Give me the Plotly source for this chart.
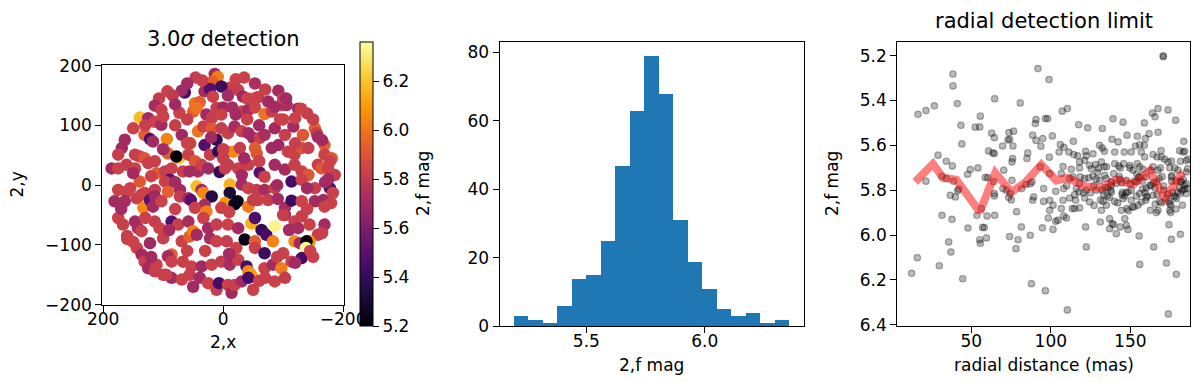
import plotly.graph_objects as go

# ---------------- data ----------------
# left panel: detected positions (x, y) and magnitudes
det_x = [46, 14, 9, 18, -11, -21, -53, 3,
         64, 69, 93, 84, 31, 22, 17, -8, -25, -33, -50, -58, -92, -97, 107, 47, 39,
         114, 103, 139, 125, 73, 50, 44, 28, 11, 0, -15, -31, -42, -53, -69, -81, -86, -106, -125, 19, 3, -21,
         164, 114, 103, 131, 122, 117, 94, 69, 42, 33, 19, 3, -8, -19, -31, -42, -50, -61, -69, -86, -103, -117, -133, -153, -156, -158,
         169, 175, 147, 139, 131, 114, 92, 74, 78, 58, 47, 31, 22, 11, 8, -6, -17, -28, -53, -56, -81, -92, -108, -119, -131, -142, -169, -169, -181,
         186, 175, 161, 147, 125, 111, 97, 86, 89, 67, 56, 42, 36, 25, 6, -3, -8, -25, -31, -42, -61, -69, -86, -103, -119, -131, -142, -158, -164, -175, -186,
         175, 161, 139, 131, 114, 97, 92, 72, 44, 36, 33, 19, -11, -11, -31, -42, -56, -69, -86, -114, -131, -153, -178, -183,
         181, 164, 144, 136, 133, 122, 117, 114, 103, 72, 58, 54, 31, 47, 28, -3, 3, -19, -24, -42, -58, -75, -91, -103, -114, -131, -153, -167, -169,
         175, 167, 147, 142, 136, 114, 106, 86, 75, 58, 33, 25, 11, -8, -25, -47, -53, -64, -72, -86, -103, -119, -131, -144, -158, -169, -125,
         144, 136, 122, 100, 86, 69, 56, 50, 44, 22, 11, -6, -22, -36, -53, -53, -69, -83, -100, -119, -128, -144, -139, -138, -131,
         131, 125, 111, 114, 92, 86, 67, 53, 36, 19, 3, -11, -25, -39, -42, -47, -69, -83, -97, -114,
         86, 69, 56, 39, 25, 11, 7, -8, -14, -19, -31, -42, -86, -103,
         -100, -120, -140, -75, -40, 60, 80, 100, -60, 100, 150, -170, 160, -150, 0, -35, 55, -95, 80, -10,
         60, -35, -70, -105, -130, -150, -165, -178, 130, 155, 170, 160, 150, 120, 95, 50, -50, -70, -120, -145,
         -165, -180, -175, -60, -90, 0, 20, 60, 80, 100, -100, -120, -60, -40, 35, 80, 90, 60, 30, -10,
         -90, -110, -140, -140, -100, 130, 150, 120, -50]
det_y = [180, 186, 181, 173, 163, 177, 170, 165,
         155, 158, 157, 150, 157, 161, 148, 150, 159, 148, 145, 147, 158, 134, 145, 137, 139,
         133, 126, 113, 112, 121, 123, 129, 118, 129, 130, 130, 123, 126, 130, 119, 123, 131, 134, 128, 112, 118, 118,
         76, 106, 101, 84, 77, 73, 77, 84, 90, 98, 95, 95, 87, 98, 90, 87, 79, 79, 84, 95, 84, 98, 84, 95, 87, 81,
         62, 51, 51, 48, 45, 40, 53, 45, 48, 51, 40, 67, 51, 76, 56, 56, 56, 62, 62, 53, 62, 67, 56, 51, 62, 62, 67, 51, 45,
         28, 28, 34, 28, 37, 20, 23, 28, 9, 23, 23, 23, 34, 28, 22, 28, 34, 28, 17, 34, 21, 14, 34, 26, 34, 23, 17, 34, 28, 28, 17,
         -8, -11, 6, -13, -8, 6, -11, -8, -2, -8, -13, -19, 1, -13, 1, -5, -8, -8, -5, 6, 9, -5, -5, -13,
         -27, -27, -22, -16, -38, -25, -36, -19, -27, -19, -22, -25, -33, -38, -44, -30, -38, -32, -27, -36, -25, -25, -23, -38, -26, -27, -27, -25, -36,
         -55, -66, -61, -72, -77, -61, -72, -61, -66, -61, -55, -72, -66, -66, -72, -64, -55, -75, -83, -69, -50, -61, -52, -66, -83, -66, -72,
         -105, -116, -97, -89, -116, -94, -86, -77, -83, -89, -94, -94, -105, -91, -94, -105, -114, -94, -114, -94, -97, -94, -94, -105, -122,
         -128, -139, -133, -144, -119, -128, -128, -136, -136, -133, -128, -133, -125, -136, -144, -150, -139, -133, -139, -128,
         -155, -158, -150, -155, -164, -175, -164, -167, -180, -167, -161, -155, -161, -155,
         145, 112, 120, 140, 110, 110, 135, 115, -160, -150, 95, 5, -90, -120, 45, 45, 70, 110, 5, -45,
         170, 180, 160, 145, 128, 110, 75, 40, 100, -5, -40, -85, -95, -120, -150, -170, -175, -155, -130, -110,
         -80, -30, 10, 40, 0, 60, 80, 70, 100, 60, 110, 70, 100, 145, 175, -40, -75, -110, -110, -115,
         -120, -75, -40, -5, -50, -55, 20, 15, -25]
det_mag = [5.81, 5.71, 6.03, 5.93, 5.82, 5.83, 5.73, 5.42,
           5.44, 5.70, 5.83, 5.80, 5.72, 5.48, 5.83, 5.71, 5.81, 5.69, 5.97, 5.82, 5.71, 5.83, 5.81, 6.00, 5.94,
           5.72, 5.82, 6.18, 5.70, 5.83, 5.93, 6.00, 5.71, 5.82, 5.70, 5.72, 5.82, 5.71, 5.84, 6.00, 5.81, 5.72, 5.73, 5.70, 5.81, 5.83, 5.71,
           5.71, 5.83, 5.72, 5.94, 5.46, 5.71, 6.04, 5.70, 6.00, 5.83, 5.91, 5.81, 5.82, 5.72, 5.83, 5.71, 5.69, 5.82, 5.73, 5.71, 5.81, 5.71, 5.91, 5.93, 5.83, 5.71,
           5.71, 5.82, 5.81, 5.83, 5.91, 5.82, 5.93, 6.20, 5.21, 5.83, 5.91, 5.48, 5.81, 5.40, 5.38, 5.91, 6.05, 5.81, 5.93, 5.91, 5.71, 5.69, 5.82, 5.83, 5.89, 5.82, 5.93, 5.83, 5.91,
           5.71, 5.83, 5.81, 5.83, 5.82, 5.93, 5.81, 5.83, 5.50, 5.82, 5.71, 5.72, 5.83, 5.70, 5.40, 5.82, 5.81, 5.83, 5.71, 5.82, 5.50, 5.83, 5.71, 5.72, 5.82, 5.83, 5.91, 5.82, 5.91, 5.83, 5.81,
           5.83, 5.82, 5.91, 5.83, 5.81, 5.82, 5.94, 5.71, 6.18, 5.71, 6.05, 5.35, 6.16, 5.32, 5.71, 5.83, 5.81, 5.72, 5.83, 5.45, 5.83, 5.82, 5.50, 5.83,
           5.71, 5.72, 5.82, 5.83, 6.05, 5.50, 5.71, 5.69, 5.83, 5.81, 5.71, 5.50, 5.72, 5.83, 6.03, 6.10, 5.83, 5.22, 5.25, 6.02, 5.83, 5.82, 5.71, 5.72, 5.42, 5.83, 5.71, 5.70, 5.83,
           5.83, 5.82, 5.71, 5.72, 5.83, 5.81, 5.83, 5.48, 5.82, 5.72, 5.83, 5.71, 5.81, 5.83, 5.71, 6.15, 5.47, 5.40, 5.45, 6.33, 5.71, 5.83, 5.82, 5.83, 5.81, 5.71, 5.72,
           5.83, 5.71, 5.70, 5.82, 5.93, 5.83, 5.94, 6.03, 5.71, 5.72, 5.83, 5.81, 5.83, 5.24, 5.93, 5.82, 5.42, 6.04, 5.83, 6.05, 5.71, 6.08, 5.20, 6.35, 5.45,
           5.82, 5.71, 5.83, 5.81, 5.71, 5.83, 5.82, 5.83, 5.71, 5.83, 5.81, 5.72, 5.83, 5.45, 6.05, 6.12, 5.83, 5.71, 6.02, 5.82,
           5.71, 5.83, 5.82, 5.71, 5.83, 5.81, 5.45, 5.83, 5.71, 5.82, 5.71, 5.45, 5.83, 5.81,
           5.81, 5.83, 5.82, 5.71, 5.83, 5.82, 5.71, 5.83, 5.82, 5.83, 5.83, 5.71, 5.82, 5.83, 5.81, 5.71, 5.83, 5.82, 5.71, 5.83,
           5.71, 5.83, 5.82, 5.71, 5.83, 5.82, 5.71, 5.83, 5.82, 5.83, 5.71, 5.82, 5.83, 5.71, 5.82, 5.71, 5.83, 5.82, 5.71, 5.83,
           5.82, 5.83, 5.71, 5.83, 5.71, 5.82, 5.71, 5.83, 5.82, 5.71, 5.83, 5.82, 5.71, 5.83, 5.82, 5.83, 5.71, 5.82, 5.83, 5.71,
           5.82, 5.71, 5.83, 5.71, 5.82, 5.83, 5.71, 5.83, 5.82]

# middle panel: histogram of magnitudes (counts per bin)
hist_counts = [3, 2, 1, 6, 14, 15, 25, 47, 63, 79, 68, 31, 19, 11, 5, 3, 4, 1, 2]
hist_first_edge = 5.192
hist_bin_width = 0.0612

# right panel: radial distance (mas) vs magnitude
radial_r = [91.9, 38.5, 38.5, 16.5, 21.5, 26.8, 41.2, 64.7, 80.8, 55.7,
            52.5, 55.3, 43.5, 44.1, 62.8, 64.5, 73.7, 76.6, 74.1, 73.1,
            76.2, 69.7, 60.9, 63.6, 64.5, 76.0, 75.6, 88.6, 90.3, 90.7,
            90.7, 94.9, 93.8, 96.6, 85.5, 85.0, 29.1, 34.3, 38.1, 31.6,
            34.3, 38.9, 21.5, 49.4, 54.2, 58.8, 47.7, 42.1, 41.4, 40.0,
            36.8, 60.3, 64.1, 64.5, 64.5, 70.4, 75.6, 69.9, 72.0, 74.5,
            75.2, 73.5, 81.7, 84.4, 87.1, 88.2, 89.2, 88.6, 93.4, 95.5,
            95.5, 31.6, 37.9, 53.6, 56.3, 59.9, 64.7, 78.5, 47.9, 57.1,
            58.2, 55.3, 55.7, 59.5, 35.8, 37.2, 74.1, 79.4, 78.1, 81.5,
            87.1, 94.7, 16.1, 29.9, 12.5, 44.6, 87.8, 96.6,
            170.6, 170.8, 98.9, 110.4, 107.2, 98.0, 167.4, 173.7, 163.9, 165.5,
            178.5, 117.5, 123.2, 132.4, 139.1, 145.4, 158.8, 147.9, 154.4, 161.8,
            167.4, 101.0, 114.2, 138.5, 142.3, 159.5, 183.6, 106.0, 108.3, 111.4,
            114.4, 116.9, 121.9, 122.3, 126.5, 105.2, 99.1, 130.7, 132.4, 133.7,
            140.2, 146.2, 150.6, 155.9, 153.2, 158.8, 156.9, 159.0, 164.3, 169.3,
            166.8, 169.5, 181.0, 183.1, 184.2, 186.3, 185.2, 181.5, 175.8, 173.7,
            171.6, 118.1, 121.3, 107.7, 112.9, 118.1, 124.4, 128.2, 131.8, 133.5,
            135.0, 140.2, 142.7, 143.7, 145.8, 149.6, 151.7, 154.4, 155.9, 158.0,
            164.3, 167.4, 168.9, 177.9, 180.0, 185.2, 99.3, 106.6, 114.0, 111.9,
            118.6, 121.3, 126.5, 128.6, 130.7, 133.9, 134.9, 138.1, 143.3, 147.5,
            150.0, 153.8, 160.1, 162.2, 166.4, 175.8, 178.9, 182.1, 185.2, 103.1,
            108.1, 116.1, 117.7, 122.3, 124.9, 128.6, 132.4, 133.2, 135.5, 138.1,
            144.8, 146.5, 148.6, 153.8, 155.9, 160.5, 164.3, 166.8, 172.7, 174.3,
            177.5, 180.0, 181.5, 182.7, 185.2, 185.7, 99.3, 107.7, 111.9, 115.6,
            121.3, 124.4, 132.8, 134.9, 140.2, 145.4, 150.6, 156.9, 159.7, 168.5,
            174.8, 175.4, 182.7, 101.4, 113.5, 115.0, 118.1, 99.3, 106.6, 144.4,
            147.9, 151.3, 154.8, 162.6, 166.4, 167.4, 174.8, 175.4, 131.8, 98.4,
            103.1, 104.5, 108.1, 109.8, 137.0, 138.5, 139.5, 146.5, 147.5, 143.7,
            131.1, 137.0, 141.2, 148.5, 101.4, 121.9, 155.5, 174.3, 181.5, 175.8,
            122.3, 164.7, 155.9, 172.7, 178.9, 110.4, 173.9,
            136.0, 141.0, 150.5, 157.5, 163.0, 170.0, 176.5, 181.0, 127.0, 145.0,
            152.5, 160.0, 171.0, 178.0, 184.0, 129.5, 137.5, 156.0, 165.5, 176.0,
            120.5, 123.8, 127.2, 130.0, 134.2, 136.8, 139.5, 142.0, 144.6, 147.2,
            149.8, 152.4, 155.1, 157.7, 160.3, 163.0, 165.6, 168.2, 170.9, 173.5,
            176.1, 178.7, 181.4, 184.0, 118.0, 125.5, 131.2, 137.9, 143.1, 148.8,
            154.0, 159.2, 164.4, 169.6, 174.8, 179.0, 183.2, 186.0, 115.0, 110.0]
radial_mag = [5.258, 5.282, 5.335, 5.462, 5.445, 5.424, 5.414, 5.392, 5.411, 5.470,
              5.519, 5.518, 5.511, 5.594, 5.546, 5.566, 5.543, 5.537, 5.573, 5.576,
              5.603, 5.603, 5.625, 5.634, 5.637, 5.659, 5.674, 5.555, 5.503, 5.485,
              5.578, 5.570, 5.604, 5.481, 5.634, 5.659, 5.644, 5.671, 5.692, 5.738,
              5.748, 5.760, 5.760, 5.708, 5.701, 5.743, 5.729, 5.795, 5.803, 5.830,
              5.823, 5.744, 5.763, 5.815, 5.826, 5.711, 5.756, 5.793, 5.800, 5.815,
              5.844, 5.832, 5.793, 5.775, 5.771, 5.763, 5.830, 5.845, 5.696, 5.793,
              5.850, 5.912, 5.930, 5.912, 5.882, 5.915, 5.912, 5.896, 5.969, 5.966,
              5.967, 6.021, 6.037, 6.013, 6.031, 6.076, 6.007, 6.021, 6.061, 5.964,
              6.001, 5.968, 6.101, 6.137, 6.171, 6.195, 6.217, 6.248,
              5.201, 5.205, 5.307, 5.436, 5.448, 5.481, 5.436, 5.442, 5.456, 5.473,
              5.488, 5.508, 5.522, 5.525, 5.482, 5.497, 5.500, 5.555, 5.560, 5.548,
              5.542, 5.558, 5.582, 5.573, 5.585, 5.570, 5.582, 5.597, 5.609, 5.630,
              5.641, 5.647, 5.627, 5.647, 5.638, 5.630, 5.653, 5.600, 5.612, 5.627,
              5.630, 5.630, 5.630, 5.597, 5.603, 5.600, 5.630, 5.652, 5.641, 5.624,
              5.652, 5.652, 5.624, 5.630, 5.627, 5.662, 5.668, 5.671, 5.670, 5.674,
              5.662, 5.674, 5.667, 5.695, 5.707, 5.701, 5.689, 5.686, 5.674, 5.696,
              5.696, 5.682, 5.692, 5.701, 5.682, 5.701, 5.711, 5.682, 5.696, 5.707,
              5.696, 5.711, 5.701, 5.701, 5.711, 5.719, 5.726, 5.726, 5.741, 5.748,
              5.741, 5.748, 5.737, 5.751, 5.756, 5.734, 5.748, 5.763, 5.751, 5.756,
              5.771, 5.763, 5.741, 5.778, 5.763, 5.741, 5.760, 5.763, 5.771, 5.805,
              5.793, 5.793, 5.808, 5.800, 5.811, 5.800, 5.800, 5.820, 5.826, 5.808,
              5.820, 5.826, 5.808, 5.826, 5.815, 5.826, 5.823, 5.820, 5.835, 5.850,
              5.826, 5.808, 5.815, 5.800, 5.815, 5.793, 5.845, 5.845, 5.835, 5.845,
              5.835, 5.853, 5.850, 5.867, 5.850, 5.838, 5.845, 5.853, 5.845, 5.850,
              5.860, 5.867, 5.867, 5.867, 5.882, 5.882, 5.879, 5.890, 5.882, 5.890,
              5.882, 5.875, 5.867, 5.890, 5.900, 5.890, 5.890, 5.900, 5.890, 5.924,
              5.939, 5.934, 5.915, 5.924, 5.927, 5.949, 5.954, 5.927, 5.957, 5.964,
              5.942, 5.972, 5.994, 5.975, 5.975, 5.964, 6.004, 5.954, 5.997, 6.019,
              6.053, 6.053, 6.131, 6.125, 6.175, 6.334, 6.352,
              5.790, 5.770, 5.800, 5.760, 5.780, 5.740, 5.810, 5.790, 5.780, 5.810,
              5.760, 5.790, 5.800, 5.830, 5.780, 5.720, 5.800, 5.740, 5.790, 5.760,
              5.812, 5.745, 5.868, 5.702, 5.788, 5.833, 5.726, 5.857, 5.768, 5.812,
              5.690, 5.875, 5.743, 5.795, 5.832, 5.712, 5.862, 5.748, 5.781, 5.817,
              5.735, 5.884, 5.760, 5.795, 5.770, 5.705, 5.844, 5.779, 5.738, 5.892,
              5.728, 5.811, 5.767, 5.856, 5.700, 5.838, 5.752, 5.704, 5.820, 5.780]

# red running curve
line_r = [14.8, 25.9, 32.2, 40.6, 55.3, 65.1, 75.2, 83.6, 94.0, 103.5,
          110.8, 121.3, 131.8, 141.2, 151.7, 162.2, 171.6, 183.1]
line_mag = [5.763, 5.683, 5.745, 5.753, 5.897, 5.723, 5.808, 5.768, 5.686, 5.757,
            5.745, 5.783, 5.790, 5.753, 5.775, 5.713, 5.835, 5.719]

# ---------------- figure ----------------
W, H = 1200, 382
FONT = "DejaVu Sans"
TICK = 17


def px_x(p):
    return p / W


def px_y(p):
    return (H - p) / H


fig = go.Figure()

fig.add_trace(go.Scatter(
    x=det_x, y=det_y, mode="markers", xaxis="x", yaxis="y",
    marker=dict(size=12.5, color=det_mag, colorscale="Inferno", cmin=5.2, cmax=6.36,
                line=dict(width=0),
                colorbar=dict(
                    x=px_x(352.3), xanchor="left", xref="paper",
                    y=px_y(318.3), yanchor="bottom", yref="paper",
                    len=(318.3 - 34.3) / H, lenmode="fraction",
                    thickness=13, thicknessmode="pixels",
                    outlinewidth=1, outlinecolor="black",
                    xpad=0, ypad=0,
                    tickvals=[5.2, 5.4, 5.6, 5.8, 6.0, 6.2],
                    ticktext=["5.2", "5.4", "5.6", "5.8", "6.0", "6.2"],
                    ticks="outside", ticklen=6, tickwidth=1, tickcolor="black",
                    tickfont=dict(family=FONT, size=TICK, color="black"),
                )),
    showlegend=False, hoverinfo="skip"))

centers = [hist_first_edge + hist_bin_width * (i + 0.5) for i in range(len(hist_counts))]
fig.add_trace(go.Bar(
    x=centers, y=hist_counts, width=[hist_bin_width] * len(hist_counts),
    xaxis="x2", yaxis="y2", marker=dict(color="#1f77b4", line=dict(width=0)),
    showlegend=False, hoverinfo="skip"))

fig.add_trace(go.Scatter(
    x=radial_r, y=radial_mag, mode="markers", xaxis="x3", yaxis="y3",
    marker=dict(size=6.5, color="rgba(0,0,0,0.27)", line=dict(width=1.2, color="rgba(0,0,0,0.3)")),
    showlegend=False, hoverinfo="skip"))

fig.add_trace(go.Scatter(
    x=line_r, y=line_mag, mode="lines", xaxis="x3", yaxis="y3",
    line=dict(color="rgba(255,0,0,0.5)", width=8),
    showlegend=False, hoverinfo="skip"))

axis_common = dict(showline=True, mirror=True, linecolor="black", linewidth=1.2,
                   ticks="outside", ticklen=6, tickwidth=1.2, tickcolor="black",
                   showgrid=False, zeroline=False, automargin=False,
                   tickfont=dict(family=FONT, size=TICK, color="black"))
xshift = dict(ticklabelstandoff=-7)

fig.update_layout(
    width=W, height=H, margin=dict(l=0, r=0, t=0, b=0, autoexpand=False),
    paper_bgcolor="white", plot_bgcolor="white",
    bargap=0,
    xaxis=dict(domain=[px_x(94.3), px_x(336)], range=[201.5, -201.5],
               tickvals=[200, 0, -200], anchor="y", **axis_common, **xshift),
    yaxis=dict(domain=[px_y(296.7), px_y(56.7)], range=[-200, 201.5],
               tickvals=[-200, -100, 0, 100, 200], anchor="x", **axis_common),
    xaxis2=dict(domain=[px_x(491.7), px_x(795.7)], range=[5.134, 6.418],
                tickvals=[5.5, 6.0], ticktext=["5.5", "6.0"], anchor="y2", **axis_common, **xshift),
    yaxis2=dict(domain=[px_y(318.3), px_y(33.7)], range=[0, 83.1],
                tickvals=[0, 20, 40, 60, 80], anchor="x2", **axis_common),
    xaxis3=dict(domain=[px_x(889.3), px_x(1182.3)], range=[3.5, 187.7],
                tickvals=[50, 100, 150], anchor="y3", **axis_common, **xshift),
    yaxis3=dict(domain=[px_y(318.3), px_y(33.7)], range=[6.407, 5.138],
                tickvals=[5.2, 5.4, 5.6, 5.8, 6.0, 6.2, 6.4],
                ticktext=["5.2", "5.4", "5.6", "5.8", "6.0", "6.2", "6.4"],
                anchor="x3", **axis_common),
)


def label(text, x, y, size=17, angle=0, yanchor="middle"):
    fig.add_annotation(text=text, x=px_x(x), y=px_y(y), xref="paper", yref="paper",
                       showarrow=False, textangle=angle, xanchor="center", yanchor=yanchor,
                       borderpad=0, font=dict(family=FONT, size=size, color="black"))


label("3.0<i>σ</i> detection", 215, 31, size=21)
label("2,x", 215, 334)
label("2,y", 8.5, 177, angle=-90)
label("2,f mag", 415, 176, angle=-90)
label("2,f mag", 643, 357)
label("radial detection limit", 1036, 0, size=21, yanchor="top")
label("2,f mag", 824, 176, angle=-90)
label("radial distance (mas)", 1036, 357)

fig.write_html("out.html")
